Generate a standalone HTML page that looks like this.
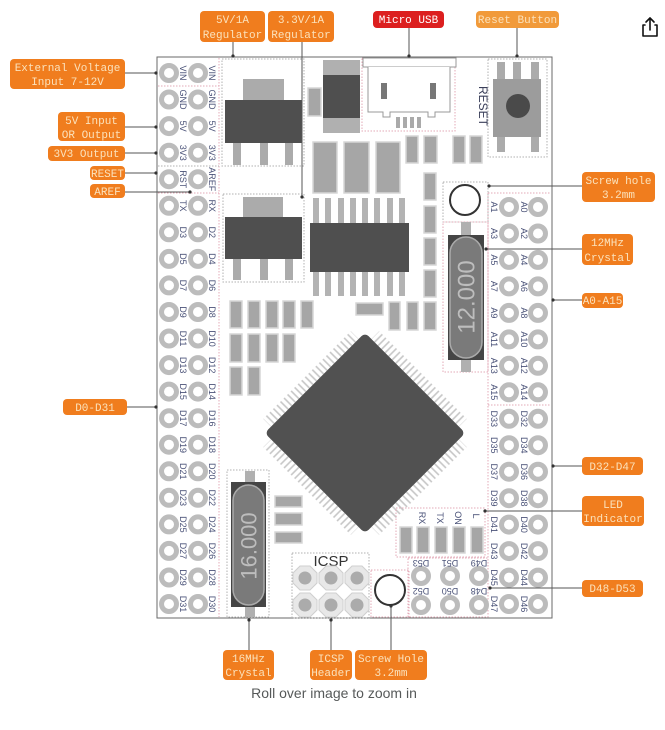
<!DOCTYPE html>
<html><head><meta charset="utf-8"><style>
html,body{margin:0;padding:0;background:#fff;}
svg{display:block;}
.pl{font-family:"Liberation Sans",sans-serif;font-size:9px;fill:#4a5278;}
.co{font-family:"Liberation Mono",monospace;font-size:11px;fill:#fbe2bc;}
.sm{fill:#a6a6a6;stroke:#d6d6d6;stroke-width:1.5;}
.dk{fill:#4f4f4f;}
.lg{fill:#ababab;}
.dp{fill:none;stroke:#e3a9b7;stroke-width:1;stroke-dasharray:1.5 1.5;}
.dg{fill:none;stroke:#b0b0b0;stroke-width:1;stroke-dasharray:1.5 1.5;}
.ln{stroke:#555;stroke-width:1;fill:none;}
</style></head><body>
<svg width="665" height="730" viewBox="0 0 665 730" xmlns="http://www.w3.org/2000/svg">
<defs>
<g id="p"><circle r="7.5" fill="#fff" stroke="#bcbcbc" stroke-width="5"/></g>
<pattern id="pv" width="5" height="12" patternUnits="userSpaceOnUse"><rect x="1.7" y="0" width="1.6" height="12" fill="#c6c6c6"/></pattern>
<pattern id="ph" width="12" height="5" patternUnits="userSpaceOnUse"><rect x="0" y="1.7" width="12" height="1.6" fill="#c6c6c6"/></pattern>
<g id="oct"><polygon points="-5,-12 5,-12 12,-5 12,5 5,12 -5,12 -12,5 -12,-5" fill="#e8e8e8" stroke="#cfcfcf" stroke-width="1"/><circle r="6.5" fill="#ababab"/></g>
</defs>

<!-- board -->
<rect x="157" y="57" width="395" height="561" fill="#fff" stroke="#6a6a6a" stroke-width="1"/>

<!-- dotted separators -->
<line x1="219" y1="58" x2="219" y2="617" class="dp"/>
<line x1="158" y1="86" x2="219" y2="86" class="dp"/>
<line x1="158" y1="166" x2="219" y2="166" class="dg"/>
<line x1="158" y1="193" x2="219" y2="193" class="dp"/>
<line x1="488" y1="193" x2="488" y2="617" class="dp"/>
<line x1="488" y1="193" x2="551" y2="193" class="dp"/>
<line x1="488" y1="405" x2="551" y2="405" class="dp"/>

<!-- 5V regulator -->
<rect x="222" y="59" width="82" height="107" class="dg"/>
<rect x="243" y="79" width="41" height="22" class="lg"/>
<rect x="225" y="100" width="77" height="43" class="dk"/>
<rect x="233" y="143" width="8" height="22" class="lg"/>
<rect x="260" y="143" width="8" height="22" class="lg"/>
<rect x="285" y="143" width="8" height="22" class="lg"/>

<!-- 3.3V regulator -->
<rect x="223" y="194" width="81" height="88" class="dg"/>
<rect x="243" y="197" width="40" height="21" class="lg"/>
<rect x="225" y="217" width="77" height="42" class="dk"/>
<rect x="233" y="259" width="8" height="21" class="lg"/>
<rect x="260" y="259" width="8" height="21" class="lg"/>
<rect x="285" y="259" width="8" height="21" class="lg"/>

<!-- top component -->
<rect x="308" y="88" width="13" height="28" class="sm"/>
<rect x="323" y="60" width="37" height="15" fill="#b0b0b0"/>
<rect x="323" y="75" width="37" height="43" class="dk"/>
<rect x="323" y="118" width="37" height="15" fill="#b0b0b0"/>

<!-- micro usb -->
<rect x="362" y="58" width="93" height="73" class="dp"/>
<rect x="363" y="58" width="93" height="9" fill="#fff" stroke="#999" stroke-width="1"/>
<path d="M368,67 V112 H383 V117 H390 V112 H428 V117 H435 V112 H450 V67" fill="#fff" stroke="#999" stroke-width="1"/>
<rect x="381" y="83" width="6" height="16" fill="#777"/>
<rect x="430" y="83" width="6" height="16" fill="#777"/>
<rect x="396" y="117" width="4" height="11" fill="#aaa"/>
<rect x="403" y="117" width="4" height="11" fill="#aaa"/>
<rect x="410" y="117" width="4" height="11" fill="#aaa"/>
<rect x="417" y="117" width="4" height="11" fill="#aaa"/>

<!-- reset button -->
<rect x="488" y="59" width="59" height="98" class="dg"/>
<rect x="497" y="62" width="8" height="18" class="lg"/>
<rect x="513" y="62" width="8" height="18" class="lg"/>
<rect x="531" y="62" width="8" height="18" class="lg"/>
<rect x="497" y="136" width="8" height="16" class="lg"/>
<rect x="531" y="136" width="8" height="16" class="lg"/>
<rect x="493" y="79" width="48" height="58" fill="#9c9c9c"/>
<circle cx="518" cy="106" r="12" fill="#4a4a4a"/>
<text transform="translate(479,106) rotate(90)" text-anchor="middle" font-family="Liberation Sans,sans-serif" font-size="12" fill="#3a3f5a">RESET</text>

<!-- small rects top -->
<rect x="406" y="136" width="12" height="27" class="sm"/>
<rect x="424" y="136" width="13" height="27" class="sm"/>
<rect x="453" y="136" width="12" height="27" class="sm"/>
<rect x="470" y="136" width="12" height="27" class="sm"/>

<!-- caps above SOIC -->
<rect x="313" y="142" width="24" height="51" class="sm"/>
<rect x="344" y="142" width="25" height="51" class="sm"/>
<rect x="376" y="142" width="24" height="51" class="sm"/>

<!-- SOIC -->
<g fill="#b3b3b3">
<rect x="313" y="198" width="6" height="25"/><rect x="325" y="198" width="6" height="25"/><rect x="338" y="198" width="6" height="25"/><rect x="350" y="198" width="6" height="25"/><rect x="362" y="198" width="6" height="25"/><rect x="374" y="198" width="6" height="25"/><rect x="387" y="198" width="6" height="25"/><rect x="399" y="198" width="6" height="25"/>
<rect x="313" y="272" width="6" height="24"/><rect x="325" y="272" width="6" height="24"/><rect x="338" y="272" width="6" height="24"/><rect x="350" y="272" width="6" height="24"/><rect x="362" y="272" width="6" height="24"/><rect x="374" y="272" width="6" height="24"/><rect x="387" y="272" width="6" height="24"/><rect x="399" y="272" width="6" height="24"/>
</g>
<rect x="310" y="223" width="99" height="49" class="dk"/>

<!-- column rects -->
<rect x="424" y="173" width="12" height="27" class="sm"/>
<rect x="424" y="206" width="12" height="27" class="sm"/>
<rect x="424" y="238" width="12" height="27" class="sm"/>
<rect x="424" y="270" width="12" height="27" class="sm"/>
<rect x="389" y="302" width="11" height="28" class="sm"/>
<rect x="407" y="302" width="11" height="28" class="sm"/>
<rect x="424" y="302" width="12" height="28" class="sm"/>
<rect x="356" y="303" width="27" height="12" class="sm"/>

<!-- resistor arrays -->
<rect x="230" y="301" width="12" height="27" class="sm"/><rect x="248" y="301" width="12" height="27" class="sm"/><rect x="266" y="301" width="12" height="27" class="sm"/><rect x="283" y="301" width="12" height="27" class="sm"/><rect x="301" y="301" width="12" height="27" class="sm"/>
<rect x="230" y="334" width="12" height="28" class="sm"/><rect x="248" y="334" width="12" height="28" class="sm"/><rect x="266" y="334" width="12" height="28" class="sm"/><rect x="283" y="334" width="12" height="28" class="sm"/>
<rect x="230" y="367" width="12" height="28" class="sm"/><rect x="248" y="367" width="12" height="28" class="sm"/>

<!-- main chip -->
<g transform="translate(365,433) rotate(45)">
<rect x="-62" y="-82" width="124" height="11" fill="url(#pv)"/>
<rect x="-62" y="71" width="124" height="11" fill="url(#pv)"/>
<rect x="-82" y="-62" width="11" height="124" fill="url(#ph)"/>
<rect x="71" y="-62" width="11" height="124" fill="url(#ph)"/>
<rect x="-71" y="-71" width="142" height="142" rx="5" fill="#515151"/>
</g>

<!-- top right screw hole & 12MHz crystal -->
<rect x="443" y="182" width="45" height="40" class="dg"/>
<circle cx="465" cy="200" r="15" fill="#fff" stroke="#333" stroke-width="2"/>
<rect x="443" y="222" width="45" height="150" class="dp"/>
<rect x="461" y="222" width="10" height="14" fill="#b0b0b0"/>
<rect x="461" y="359" width="10" height="13" fill="#b0b0b0"/>
<rect x="448" y="235" width="36" height="125" fill="#454545"/>
<rect x="450" y="237" width="32" height="121" rx="16" fill="#7a7a7a" stroke="#aaa" stroke-width="1.5"/>
<text transform="translate(466,297) rotate(-90)" text-anchor="middle" dy="0.35em" font-family="Liberation Sans,sans-serif" font-size="24" fill="#bdbdbd">12.000</text>

<!-- 16MHz crystal -->
<rect x="227" y="470" width="42" height="147" class="dg"/>
<rect x="245" y="471" width="10" height="12" fill="#b0b0b0"/>
<rect x="245" y="606" width="10" height="11" fill="#b0b0b0"/>
<rect x="231" y="482" width="35" height="125" fill="#454545"/>
<rect x="233" y="485" width="31" height="120" rx="15.5" fill="#7a7a7a" stroke="#aaa" stroke-width="1.5"/>
<text transform="translate(249,546) rotate(-90)" text-anchor="middle" dy="0.35em" font-family="Liberation Sans,sans-serif" font-size="22" fill="#bdbdbd">16.000</text>
<rect x="275" y="496" width="27" height="11" class="sm"/>
<rect x="275" y="513" width="27" height="12" class="sm"/>
<rect x="275" y="532" width="27" height="11" class="sm"/>

<!-- ICSP -->
<rect x="292" y="553" width="77" height="65" class="dg"/>
<text x="331" y="566" text-anchor="middle" font-family="Liberation Sans,sans-serif" font-size="15" fill="#333">ICSP</text>
<use href="#oct" x="305" y="578"/><use href="#oct" x="331" y="578"/><use href="#oct" x="357" y="578"/>
<use href="#oct" x="305" y="605"/><use href="#oct" x="331" y="605"/><use href="#oct" x="357" y="605"/>

<!-- bottom screw hole -->
<rect x="371" y="570" width="38" height="47" class="dp"/>
<circle cx="390" cy="590" r="15" fill="#fff" stroke="#333" stroke-width="2"/>

<!-- LED indicator -->
<rect x="396" y="508" width="89" height="49" class="dp"/>
<text transform="translate(422,518) rotate(90)" text-anchor="middle" dy="0.35em" class="pl">RX</text>
<text transform="translate(440,518) rotate(90)" text-anchor="middle" dy="0.35em" class="pl">TX</text>
<text transform="translate(458,518) rotate(90)" text-anchor="middle" dy="0.35em" class="pl">ON</text>
<text transform="translate(476,516) rotate(90)" text-anchor="middle" dy="0.35em" class="pl">L</text>
<rect x="400" y="527" width="12" height="26" class="sm"/>
<rect x="417" y="527" width="12" height="26" class="sm"/>
<rect x="435" y="527" width="12" height="26" class="sm"/>
<rect x="453" y="527" width="12" height="26" class="sm"/>
<rect x="471" y="527" width="12" height="26" class="sm"/>

<!-- D48-D53 -->
<rect x="408" y="558" width="80" height="59" class="dp"/>
<use href="#p" x="421" y="576"/><use href="#p" x="450" y="576"/><use href="#p" x="479" y="576"/>
<use href="#p" x="421" y="605"/><use href="#p" x="450" y="605"/><use href="#p" x="479" y="605"/>
<text transform="translate(421,563) rotate(180)" text-anchor="middle" dy="0.35em" class="pl">D53</text>
<text transform="translate(450,563) rotate(180)" text-anchor="middle" dy="0.35em" class="pl">D51</text>
<text transform="translate(479,563) rotate(180)" text-anchor="middle" dy="0.35em" class="pl">D49</text>
<text transform="translate(421,591) rotate(180)" text-anchor="middle" dy="0.35em" class="pl">D52</text>
<text transform="translate(450,591) rotate(180)" text-anchor="middle" dy="0.35em" class="pl">D50</text>
<text transform="translate(479,591) rotate(180)" text-anchor="middle" dy="0.35em" class="pl">D48</text>

<!-- left header pins -->
<g>
<use href="#p" x="169" y="73"/><use href="#p" x="198" y="73"/>
<use href="#p" x="169" y="99.5"/><use href="#p" x="198" y="99.5"/>
<use href="#p" x="169" y="126.1"/><use href="#p" x="198" y="126.1"/>
<use href="#p" x="169" y="152.7"/><use href="#p" x="198" y="152.7"/>
<use href="#p" x="169" y="179.2"/><use href="#p" x="198" y="179.2"/>
<use href="#p" x="169" y="205.8"/><use href="#p" x="198" y="205.8"/>
<use href="#p" x="169" y="232.3"/><use href="#p" x="198" y="232.3"/>
<use href="#p" x="169" y="258.9"/><use href="#p" x="198" y="258.9"/>
<use href="#p" x="169" y="285.4"/><use href="#p" x="198" y="285.4"/>
<use href="#p" x="169" y="312"/><use href="#p" x="198" y="312"/>
<use href="#p" x="169" y="338.5"/><use href="#p" x="198" y="338.5"/>
<use href="#p" x="169" y="365.1"/><use href="#p" x="198" y="365.1"/>
<use href="#p" x="169" y="391.6"/><use href="#p" x="198" y="391.6"/>
<use href="#p" x="169" y="418.2"/><use href="#p" x="198" y="418.2"/>
<use href="#p" x="169" y="444.7"/><use href="#p" x="198" y="444.7"/>
<use href="#p" x="169" y="471.3"/><use href="#p" x="198" y="471.3"/>
<use href="#p" x="169" y="497.8"/><use href="#p" x="198" y="497.8"/>
<use href="#p" x="169" y="524.4"/><use href="#p" x="198" y="524.4"/>
<use href="#p" x="169" y="550.9"/><use href="#p" x="198" y="550.9"/>
<use href="#p" x="169" y="577.5"/><use href="#p" x="198" y="577.5"/>
<use href="#p" x="169" y="604"/><use href="#p" x="198" y="604"/>
</g>
<g text-anchor="middle" class="pl">
<text transform="translate(183,73) rotate(90)" dy="0.35em">VIN</text><text transform="translate(212,73) rotate(90)" dy="0.35em">VIN</text>
<text transform="translate(183,99.5) rotate(90)" dy="0.35em">GND</text><text transform="translate(212,99.5) rotate(90)" dy="0.35em">GND</text>
<text transform="translate(183,126.1) rotate(90)" dy="0.35em">5V</text><text transform="translate(212,126.1) rotate(90)" dy="0.35em">5V</text>
<text transform="translate(183,152.7) rotate(90)" dy="0.35em">3V3</text><text transform="translate(212,152.7) rotate(90)" dy="0.35em">3V3</text>
<text transform="translate(183,179.2) rotate(90)" dy="0.35em">RST</text><text transform="translate(212,179.2) rotate(90)" dy="0.35em">AREF</text>
<text transform="translate(183,205.8) rotate(90)" dy="0.35em">TX</text><text transform="translate(212,205.8) rotate(90)" dy="0.35em">RX</text>
<text transform="translate(183,232.3) rotate(90)" dy="0.35em">D3</text><text transform="translate(212,232.3) rotate(90)" dy="0.35em">D2</text>
<text transform="translate(183,258.9) rotate(90)" dy="0.35em">D5</text><text transform="translate(212,258.9) rotate(90)" dy="0.35em">D4</text>
<text transform="translate(183,285.4) rotate(90)" dy="0.35em">D7</text><text transform="translate(212,285.4) rotate(90)" dy="0.35em">D6</text>
<text transform="translate(183,312) rotate(90)" dy="0.35em">D9</text><text transform="translate(212,312) rotate(90)" dy="0.35em">D8</text>
<text transform="translate(183,338.5) rotate(90)" dy="0.35em">D11</text><text transform="translate(212,338.5) rotate(90)" dy="0.35em">D10</text>
<text transform="translate(183,365.1) rotate(90)" dy="0.35em">D13</text><text transform="translate(212,365.1) rotate(90)" dy="0.35em">D12</text>
<text transform="translate(183,391.6) rotate(90)" dy="0.35em">D15</text><text transform="translate(212,391.6) rotate(90)" dy="0.35em">D14</text>
<text transform="translate(183,418.2) rotate(90)" dy="0.35em">D17</text><text transform="translate(212,418.2) rotate(90)" dy="0.35em">D16</text>
<text transform="translate(183,444.7) rotate(90)" dy="0.35em">D19</text><text transform="translate(212,444.7) rotate(90)" dy="0.35em">D18</text>
<text transform="translate(183,471.3) rotate(90)" dy="0.35em">D21</text><text transform="translate(212,471.3) rotate(90)" dy="0.35em">D20</text>
<text transform="translate(183,497.8) rotate(90)" dy="0.35em">D23</text><text transform="translate(212,497.8) rotate(90)" dy="0.35em">D22</text>
<text transform="translate(183,524.4) rotate(90)" dy="0.35em">D25</text><text transform="translate(212,524.4) rotate(90)" dy="0.35em">D24</text>
<text transform="translate(183,550.9) rotate(90)" dy="0.35em">D27</text><text transform="translate(212,550.9) rotate(90)" dy="0.35em">D26</text>
<text transform="translate(183,577.5) rotate(90)" dy="0.35em">D29</text><text transform="translate(212,577.5) rotate(90)" dy="0.35em">D28</text>
<text transform="translate(183,604) rotate(90)" dy="0.35em">D31</text><text transform="translate(212,604) rotate(90)" dy="0.35em">D30</text>
</g>

<!-- right header pins -->
<g>
<use href="#p" x="509" y="207"/><use href="#p" x="538" y="207"/>
<use href="#p" x="509" y="233.5"/><use href="#p" x="538" y="233.5"/>
<use href="#p" x="509" y="259.9"/><use href="#p" x="538" y="259.9"/>
<use href="#p" x="509" y="286.4"/><use href="#p" x="538" y="286.4"/>
<use href="#p" x="509" y="312.9"/><use href="#p" x="538" y="312.9"/>
<use href="#p" x="509" y="339.4"/><use href="#p" x="538" y="339.4"/>
<use href="#p" x="509" y="365.8"/><use href="#p" x="538" y="365.8"/>
<use href="#p" x="509" y="392.3"/><use href="#p" x="538" y="392.3"/>
<use href="#p" x="509" y="418.8"/><use href="#p" x="538" y="418.8"/>
<use href="#p" x="509" y="445.2"/><use href="#p" x="538" y="445.2"/>
<use href="#p" x="509" y="471.7"/><use href="#p" x="538" y="471.7"/>
<use href="#p" x="509" y="498.2"/><use href="#p" x="538" y="498.2"/>
<use href="#p" x="509" y="524.6"/><use href="#p" x="538" y="524.6"/>
<use href="#p" x="509" y="551.1"/><use href="#p" x="538" y="551.1"/>
<use href="#p" x="509" y="577.6"/><use href="#p" x="538" y="577.6"/>
<use href="#p" x="509" y="604"/><use href="#p" x="538" y="604"/>
</g>
<g text-anchor="middle" class="pl">
<text transform="translate(494,207) rotate(90)" dy="0.35em">A1</text><text transform="translate(524,207) rotate(90)" dy="0.35em">A0</text>
<text transform="translate(494,233.5) rotate(90)" dy="0.35em">A3</text><text transform="translate(524,233.5) rotate(90)" dy="0.35em">A2</text>
<text transform="translate(494,259.9) rotate(90)" dy="0.35em">A5</text><text transform="translate(524,259.9) rotate(90)" dy="0.35em">A4</text>
<text transform="translate(494,286.4) rotate(90)" dy="0.35em">A7</text><text transform="translate(524,286.4) rotate(90)" dy="0.35em">A6</text>
<text transform="translate(494,312.9) rotate(90)" dy="0.35em">A9</text><text transform="translate(524,312.9) rotate(90)" dy="0.35em">A8</text>
<text transform="translate(494,339.4) rotate(90)" dy="0.35em">A11</text><text transform="translate(524,339.4) rotate(90)" dy="0.35em">A10</text>
<text transform="translate(494,365.8) rotate(90)" dy="0.35em">A13</text><text transform="translate(524,365.8) rotate(90)" dy="0.35em">A12</text>
<text transform="translate(494,392.3) rotate(90)" dy="0.35em">A15</text><text transform="translate(524,392.3) rotate(90)" dy="0.35em">A14</text>
<text transform="translate(494,418.8) rotate(90)" dy="0.35em">D33</text><text transform="translate(524,418.8) rotate(90)" dy="0.35em">D32</text>
<text transform="translate(494,445.2) rotate(90)" dy="0.35em">D35</text><text transform="translate(524,445.2) rotate(90)" dy="0.35em">D34</text>
<text transform="translate(494,471.7) rotate(90)" dy="0.35em">D37</text><text transform="translate(524,471.7) rotate(90)" dy="0.35em">D36</text>
<text transform="translate(494,498.2) rotate(90)" dy="0.35em">D39</text><text transform="translate(524,498.2) rotate(90)" dy="0.35em">D38</text>
<text transform="translate(494,524.6) rotate(90)" dy="0.35em">D41</text><text transform="translate(524,524.6) rotate(90)" dy="0.35em">D40</text>
<text transform="translate(494,551.1) rotate(90)" dy="0.35em">D43</text><text transform="translate(524,551.1) rotate(90)" dy="0.35em">D42</text>
<text transform="translate(494,577.6) rotate(90)" dy="0.35em">D45</text><text transform="translate(524,577.6) rotate(90)" dy="0.35em">D44</text>
<text transform="translate(494,604) rotate(90)" dy="0.35em">D47</text><text transform="translate(524,604) rotate(90)" dy="0.35em">D46</text>
</g>

<!-- connector lines -->
<g class="ln">
<line x1="233" y1="42" x2="233" y2="57"/>
<line x1="302" y1="42" x2="302" y2="197"/>
<line x1="409" y1="27" x2="409" y2="57"/>
<line x1="517" y1="27" x2="517" y2="57"/>
<line x1="125" y1="73" x2="157" y2="73"/>
<line x1="125" y1="127" x2="157" y2="127"/>
<line x1="125" y1="153" x2="157" y2="153"/>
<line x1="125" y1="173" x2="157" y2="173"/>
<line x1="125" y1="192" x2="190" y2="192"/>
<line x1="127" y1="407" x2="157" y2="407"/>
<line x1="249" y1="650" x2="249" y2="619"/>
<line x1="331" y1="650" x2="331" y2="619"/>
<line x1="391" y1="650" x2="391" y2="606"/>
<line x1="582" y1="186" x2="489" y2="186"/>
<line x1="582" y1="249" x2="486" y2="249"/>
<line x1="582" y1="300" x2="553" y2="300"/>
<line x1="582" y1="466" x2="553" y2="466"/>
<line x1="582" y1="511" x2="485" y2="511"/>
<line x1="582" y1="588" x2="490" y2="588"/>
</g>
<g fill="#333">
<circle cx="233" cy="56" r="1.6"/><circle cx="302" cy="197" r="1.6"/><circle cx="409" cy="56" r="1.6"/><circle cx="517" cy="56" r="1.6"/>
<circle cx="156" cy="73" r="1.6"/><circle cx="156" cy="127" r="1.6"/><circle cx="156" cy="153" r="1.6"/><circle cx="156" cy="173" r="1.6"/><circle cx="190" cy="192" r="1.6"/><circle cx="156" cy="407" r="1.6"/>
<circle cx="249" cy="620" r="1.6"/><circle cx="331" cy="620" r="1.6"/><circle cx="391" cy="606" r="1.6"/>
<circle cx="489" cy="186" r="1.6"/><circle cx="486" cy="249" r="1.6"/><circle cx="553" cy="300" r="1.6"/><circle cx="553" cy="466" r="1.6"/><circle cx="485" cy="511" r="1.6"/><circle cx="490" cy="588" r="1.6"/>
</g>

<!-- callouts -->
<g fill="#f07d1e">
<rect x="200" y="11" width="65" height="31" rx="4"/>
<rect x="268" y="11" width="66" height="31" rx="4"/>
<rect x="10" y="59" width="115" height="30" rx="4"/>
<rect x="58" y="112" width="67" height="29" rx="4"/>
<rect x="48" y="146" width="77" height="15" rx="4"/>
<rect x="90" y="166" width="35" height="14" rx="4"/>
<rect x="90" y="184" width="35" height="14" rx="4"/>
<rect x="63" y="399" width="64" height="16" rx="4"/>
<rect x="223" y="650" width="51" height="30" rx="4"/>
<rect x="310" y="650" width="42" height="30" rx="4"/>
<rect x="355" y="650" width="72" height="30" rx="4"/>
<rect x="582" y="172" width="73" height="30" rx="4"/>
<rect x="582" y="234" width="51" height="31" rx="4"/>
<rect x="582" y="293" width="41" height="15" rx="4"/>
<rect x="582" y="457" width="61" height="18" rx="4"/>
<rect x="582" y="496" width="62" height="30" rx="4"/>
<rect x="582" y="580" width="61" height="17" rx="4"/>
</g>
<rect x="373" y="11" width="71" height="17" rx="4" fill="#dc1f1f"/>
<rect x="476" y="11" width="83" height="17" rx="4" fill="#f19a3a"/>

<g class="co" text-anchor="middle">
<text x="232.5" y="23">5V/1A</text><text x="232.5" y="38">Regulator</text>
<text x="301" y="23">3.3V/1A</text><text x="301" y="38">Regulator</text>
<text x="408.5" y="23" fill="#fff">Micro USB</text>
<text x="517.5" y="23">Reset Button</text>
<text x="67.5" y="71">External Voltage</text><text x="67.5" y="85">Input 7-12V</text>
<text x="91.5" y="124">5V Input</text><text x="91.5" y="138">OR Output</text>
<text x="86.5" y="157">3V3 Output</text>
<text x="107.5" y="177">RESET</text>
<text x="107.5" y="195">AREF</text>
<text x="95" y="411">D0-D31</text>
<text x="248.5" y="662">16MHz</text><text x="248.5" y="676">Crystal</text>
<text x="331" y="662">ICSP</text><text x="331" y="676">Header</text>
<text x="391" y="662">Screw Hole</text><text x="391" y="676">3.2mm</text>
<text x="618.5" y="184">Screw hole</text><text x="618.5" y="198">3.2mm</text>
<text x="607.5" y="246">12MHz</text><text x="607.5" y="261">Crystal</text>
<text x="602.5" y="304">A0-A15</text>
<text x="612.5" y="470">D32-D47</text>
<text x="613" y="508">LED</text><text x="613" y="522">Indicator</text>
<text x="612.5" y="592">D48-D53</text>
</g>

<!-- footer text -->
<text x="334" y="698" text-anchor="middle" font-family="Liberation Sans,sans-serif" font-size="14" fill="#565959">Roll over image to zoom in</text>

<!-- share icon -->
<g fill="none" stroke="#111" stroke-width="1.6" stroke-linecap="round" stroke-linejoin="round">
<path d="M645,25 H643 V36 H657 V25 H655"/>
<path d="M650,30 V18"/>
<path d="M646,22 L650,18 L654,22"/>
</g>
</svg>
</body></html>
